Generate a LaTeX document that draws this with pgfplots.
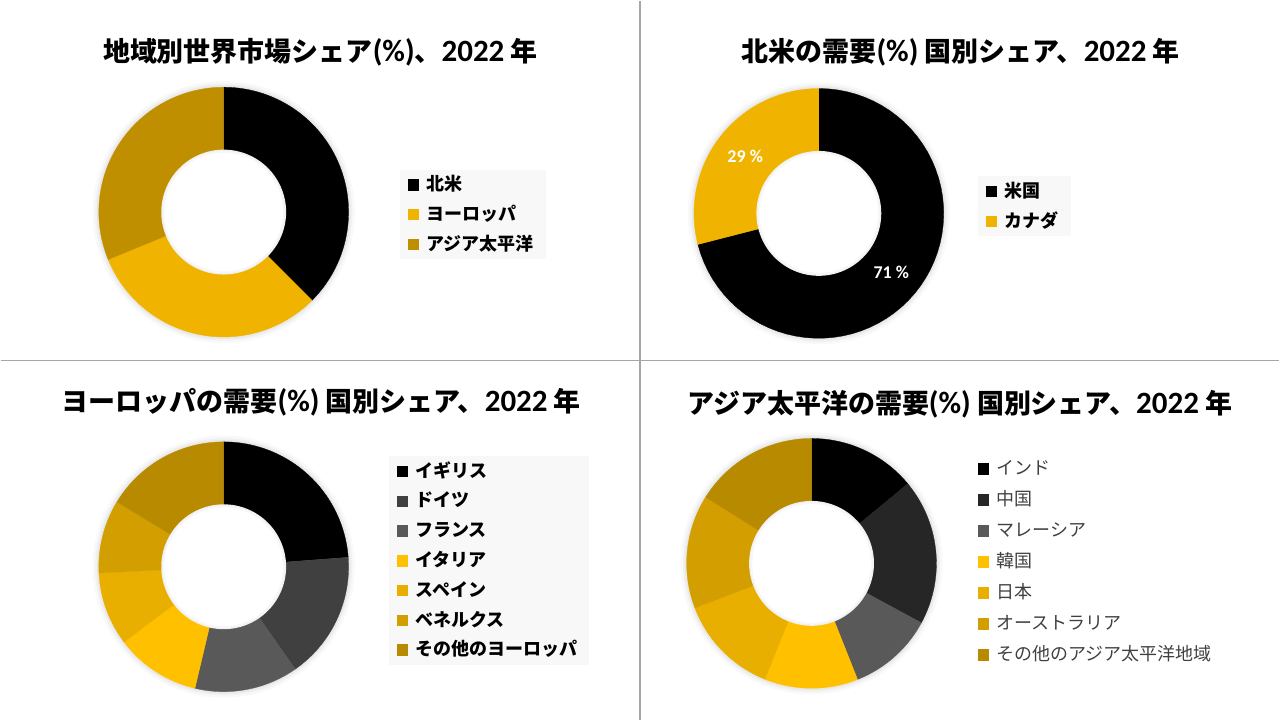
\documentclass[border=0pt]{standalone}
\usepackage{pgfplots}
\pgfplotsset{compat=1.18}
\usepackage{fontspec}
\newfontfamily\cjk{Noto Sans CJK JP}
\newfontfamily\lat{Carlito}
\definecolor{k0}{HTML}{000000}
\definecolor{k1}{HTML}{404040}
\definecolor{k2}{HTML}{595959}
\definecolor{k3}{HTML}{262626}
\definecolor{y0}{HTML}{F0B400}
\definecolor{y1}{HTML}{BF8F00}
\definecolor{e3}{HTML}{FFC000}
\definecolor{e4}{HTML}{E8AE00}
\definecolor{e5}{HTML}{D29E00}
\definecolor{e6}{HTML}{B88A00}
\definecolor{legbg}{HTML}{F8F8F8}
\definecolor{divider}{HTML}{A6A6A6}
% one donut slice: start %, end %, colour
\newcommand{\slice}[3]{\addplot[fill=#3, draw=#3, line width=0.15pt, domain=#1:#2, samples=60]
  ({cos(90-3.6*x)},{sin(90-3.6*x)}) -- (axis cs:0,0) -- cycle;}
\newcommand{\halo}{%
  \addplot[fill=black, draw=none, opacity=0.025, domain=0:360, samples=120, forget plot] ({1.05*cos(x)},{1.05*sin(x)}) -- cycle;
  \addplot[fill=black, draw=none, opacity=0.03, domain=0:360, samples=120, forget plot] ({1.03*cos(x)},{1.03*sin(x)}) -- cycle;
  \addplot[fill=black, draw=none, opacity=0.04, domain=0:360, samples=120, forget plot] ({1.015*cos(x)},{1.015*sin(x)}) -- cycle;}
\newcommand{\hole}{%
  \addplot[fill=black!6, draw=none, domain=0:360, samples=120, forget plot] ({0.5*cos(x)},{0.5*sin(x)}) -- cycle;
  \addplot[fill=black!3, draw=none, domain=0:360, samples=120, forget plot] ({0.49*cos(x)},{0.49*sin(x)}) -- cycle;
  \addplot[fill=white, draw=none, domain=0:360, samples=120, forget plot] ({0.475*cos(x)},{0.475*sin(x)}) -- cycle;}
\newcommand{\lt}[1]{{\lat\fontsize{15.5}{15}\selectfont #1}}
\pgfplotsset{donut/.style={width=125pt, height=125pt, scale only axis,
  xmin=-1, xmax=1, ymin=-1, ymax=1, hide axis, clip=false, anchor=center,
  legend cell align=left,
  legend image code/.code={\path[##1] (0pt,-2.6pt) rectangle (5.2pt,2.6pt);},
  legend style={draw=none, fill=legbg, anchor=west, inner xsep=4pt, inner ysep=2pt,
    row sep=3.9pt, column sep=2pt,
    font=\cjk\bfseries\fontsize{9}{10}\selectfont,
    nodes={inner ysep=1pt, text height=7.5pt, text depth=1.5pt}}}}
\begin{document}
\begin{tikzpicture}
\path (0pt,0pt) rectangle (640pt,360pt);
\draw[divider, line width=0.6pt] (320pt,0pt) -- (320pt,360pt);
\draw[divider, line width=0.6pt] (0pt,180pt) -- (640pt,180pt);

\node[font=\cjk\bfseries\fontsize{13.5}{15}\selectfont] at (160pt,334pt)
  {地域別世界市場シェア\lt{(\%)}、\lt{2022} 年};
\node[font=\cjk\bfseries\fontsize{13.5}{15}\selectfont] at (480.5pt,334pt)
  {北米の需要\lt{(\%)} 国別シェア、\lt{2022} 年};
\node[font=\cjk\bfseries\fontsize{13.5}{15}\selectfont] at (160.5pt,159pt)
  {ヨーロッパの需要\lt{(\%)} 国別シェア、\lt{2022} 年};
\node[font=\cjk\bfseries\fontsize{13.5}{15}\selectfont] at (480pt,158pt)
  {アジア太平洋の需要\lt{(\%)} 国別シェア、\lt{2022} 年};

% top left
\begin{axis}[donut, at={(111.65pt,254.15pt)}, legend style={at={(1.204,0.491)}}]
\halo
\slice{0}{37.5}{k0}
\slice{37.5}{68.8}{y0}
\slice{68.8}{100}{y1}
\hole
\legend{北米,ヨーロッパ,アジア太平洋}
\end{axis}

% top right
\begin{axis}[donut, at={(409.5pt,253.5pt)}, legend style={at={(1.136,0.529)}}]
\halo
\slice{0}{71}{k0}
\slice{71}{100}{y0}
\hole
\node[text=white, font=\lat\bfseries\fontsize{9}{10}\selectfont] at (axis cs:0.58,-0.47) {71 \%};
\node[text=white, font=\lat\bfseries\fontsize{9}{10}\selectfont] at (axis cs:-0.59,0.46) {29 \%};
\legend{米国,カナダ}
\end{axis}

% bottom left
\begin{axis}[donut, at={(111.65pt,76.65pt)}, legend style={at={(1.159,0.525)}}]
\halo
\slice{0}{23.8}{k0}
\slice{23.8}{40.3}{k1}
\slice{40.3}{53.7}{k2}
\slice{53.7}{64.7}{e3}
\slice{64.7}{74.2}{e4}
\slice{74.2}{83.7}{e5}
\slice{83.7}{100}{e6}
\hole
\legend{イギリス,ドイツ,フランス,イタリア,スペイン,ベネルクス,その他のヨーロッパ}
\end{axis}

% bottom right
\begin{axis}[donut, at={(405.85pt,78.35pt)}, legend style={at={(1.133,0.507)}, fill=none,
    row sep=4.5pt, font=\cjk\fontsize{9}{10}\selectfont, text=black!75}]
\halo
\slice{0}{14.0}{k0}
\slice{14.0}{32.9}{k3}
\slice{32.9}{44.0}{k2}
\slice{44.0}{56.1}{e3}
\slice{56.1}{69.2}{e4}
\slice{69.2}{83.9}{e5}
\slice{83.9}{100}{e6}
\hole
\legend{インド,中国,マレーシア,韓国,日本,オーストラリア,その他のアジア太平洋地域}
\end{axis}
\end{tikzpicture}
\end{document}
